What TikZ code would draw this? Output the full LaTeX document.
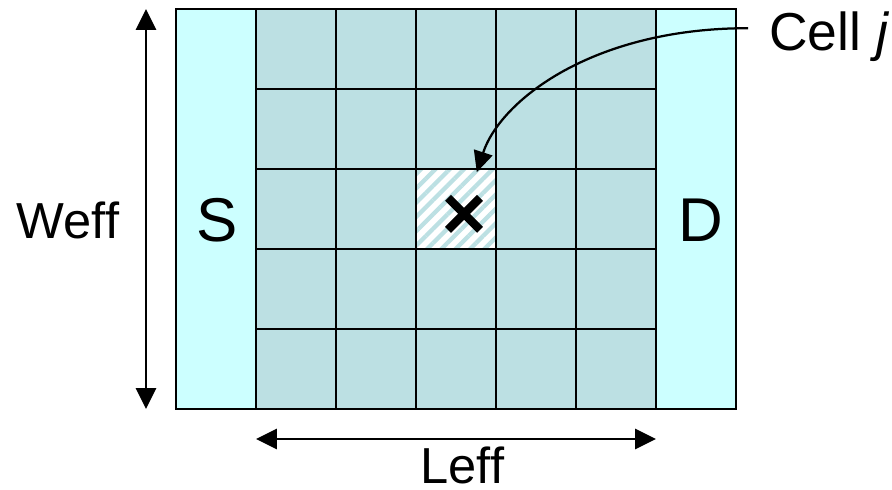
\documentclass[tikz,border=0pt]{standalone}
\usepackage{fontspec}
\setmainfont{Liberation Sans}
\usepackage{tikz}
\usetikzlibrary{arrows.meta,positioning,patterns.meta}
\definecolor{chanfill}{HTML}{BCE0E3}
\definecolor{contfill}{HTML}{CCFFFF}

\begin{document}
\begin{tikzpicture}[line width=1pt,
  region/.style={draw,outer sep=0pt,inner sep=0pt,minimum height=5cm},
  dim/.style={line width=0.8pt,{Triangle[length=2.6mm,width=2.5mm]}-{Triangle[length=2.6mm,width=2.5mm]}},
  bigtxt/.style={font=\fontsize{22}{26}\selectfont},
  dimtxt/.style={font=\fontsize{18}{22}\selectfont,inner sep=0pt}]
  \useasboundingbox (-3.2,-1.0125) rectangle (7.95,5.1125);
  % channel of cells
  \node[region,fill=chanfill,minimum width=5cm] (chan) at (2.5,2.5) {};
  \node[region,fill=contfill,minimum width=1cm,left=0pt of chan] (src) {};
  \node[region,fill=contfill,minimum width=1cm,right=0pt of chan] (drn) {};
  \node[draw,outer sep=0pt,minimum size=1cm,preaction={fill=white},
    pattern={Lines[angle=45,distance=3.6pt,line width=1.5pt]},pattern color=chanfill] (cellj) at (2.5,2.5) {};
  \draw (chan.south west) grid (chan.north east);
  \draw (chan.south west) rectangle (chan.north east);
  \node[bigtxt] (slbl) at ([xshift=0.2mm,yshift=-1.4mm]src.center) {S};
  \node[bigtxt] (dlbl) at ([xshift=0.6mm,yshift=-1.4mm]drn.center) {D};
  % cross in cell j
  \draw[line width=3pt] ([xshift=-1.0mm,yshift=-2.6mm]cellj.center) -- ([xshift=3.0mm,yshift=1.4mm]cellj.center);
  \draw[line width=3pt] ([xshift=-1.0mm,yshift=1.4mm]cellj.center) -- ([xshift=3.0mm,yshift=-2.6mm]cellj.center);
  % dimensions
  \coordinate (wbot) at (-1.375,0);
  \coordinate (wtop) at (-1.375,5);
  \draw[dim] (wbot) -- (wtop);
  \node[dimtxt] (weff) at (-2.35,2.36) {Weff};
  \coordinate (lleft) at (0,-0.375);
  \coordinate (lright) at (5,-0.375);
  \draw[dim] (lleft) -- (lright);
  \node[dimtxt] (leff) at (2.58,-0.71) {Leff};
  % cell label
  \node[font=\fontsize{19}{23}\selectfont,anchor=west,inner sep=0pt] (jlbl) at (6.4,4.66) {Cell \textit{j}};
  \coordinate (jtail) at (6.15,4.76);
  \coordinate (jtip) at (2.76,2.96);
  \draw[line width=0.8pt,-{Triangle[length=2.6mm,width=2.4mm]}] (jtail) .. controls (4.2,4.76) and (3.05,3.85) .. (jtip);
\end{tikzpicture}
\end{document}
